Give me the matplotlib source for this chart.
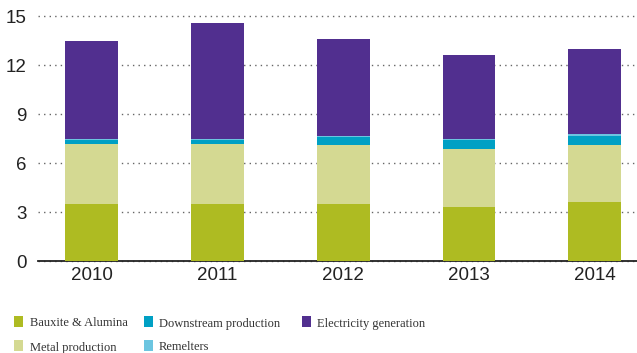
import numpy as np
import matplotlib
matplotlib.use("Agg")
import matplotlib.pyplot as plt
from matplotlib.patches import Rectangle

years = ["2010", "2011", "2012", "2013", "2014"]
bauxite = [3.51, 3.51, 3.49, 3.31, 3.64]
metal = [3.66, 3.66, 3.62, 3.56, 3.47]
downstream = [0.27, 0.27, 0.51, 0.57, 0.55]
remelters = [0.04, 0.04, 0.06, 0.06, 0.14]
electricity = [6.01, 7.11, 5.93, 5.13, 5.20]

series = [
    ("Bauxite & Alumina", bauxite, "#aebb22"),
    ("Metal production", metal, "#d4d992"),
    ("Downstream production", downstream, "#00a0c4"),
    ("Remelters", remelters, "#6cc5e0"),
    ("Electricity generation", electricity, "#512f8f"),
]

W, H = 637, 353
fig = plt.figure(figsize=(W / 100, H / 100), dpi=100)
ax = fig.add_axes([37.7 / W, 1 - 261 / H, 1 - 37.7 / W, (261 - 16.3) / H])

x = np.arange(len(years))
bottom = np.zeros(len(years))
for name, vals, col in series:
    ax.bar(x, vals, 0.42, bottom=bottom, color=col, label=name, zorder=3)
    bottom += np.array(vals)

ax.set_xlim(-0.428, 4.336)
ax.set_ylim(0, 15)
ax.set_yticks([0, 3, 6, 9, 12, 15])
ax.set_xticks(x)
ax.set_xticklabels(years)
ax.yaxis.grid(True, color="#666666", linestyle=(0, (1, 3)), linewidth=1)
ax.set_axisbelow(True)
for s in ["top", "left", "right"]:
    ax.spines[s].set_visible(False)
ax.spines["bottom"].set_color("#222222")
ax.spines["bottom"].set_linewidth(1.3)
ax.tick_params(length=0, labelsize=13.5, colors="#222222")
ax.tick_params(axis="y", pad=8)
ax.tick_params(axis="x", pad=4)
for lab in ax.get_xticklabels() + ax.get_yticklabels():
    lab.set_family("Liberation Sans")
for line in ax.yaxis.get_gridlines():
    line.set_clip_on(False)

# legend drawn by hand: (marker x, text x, marker top y) in pixels
legend_pos = [(14, 30, 316), (14, 30, 340), (144, 159, 316),
              (144, 159, 340), (302, 317, 316)]
for (name, vals, col), (mx, tx, my) in zip(series, legend_pos):
    fig.add_artist(Rectangle((mx / W, 1 - (my + 11) / H), 9 / W, 11 / H,
                             transform=fig.transFigure, color=col, lw=0))
    fig.text(tx / W, 1 - (my + 10.5) / H, name, family="Liberation Serif",
             size=9, color="#333333", va="baseline", ha="left")

fig.savefig("out.png", dpi=100)
